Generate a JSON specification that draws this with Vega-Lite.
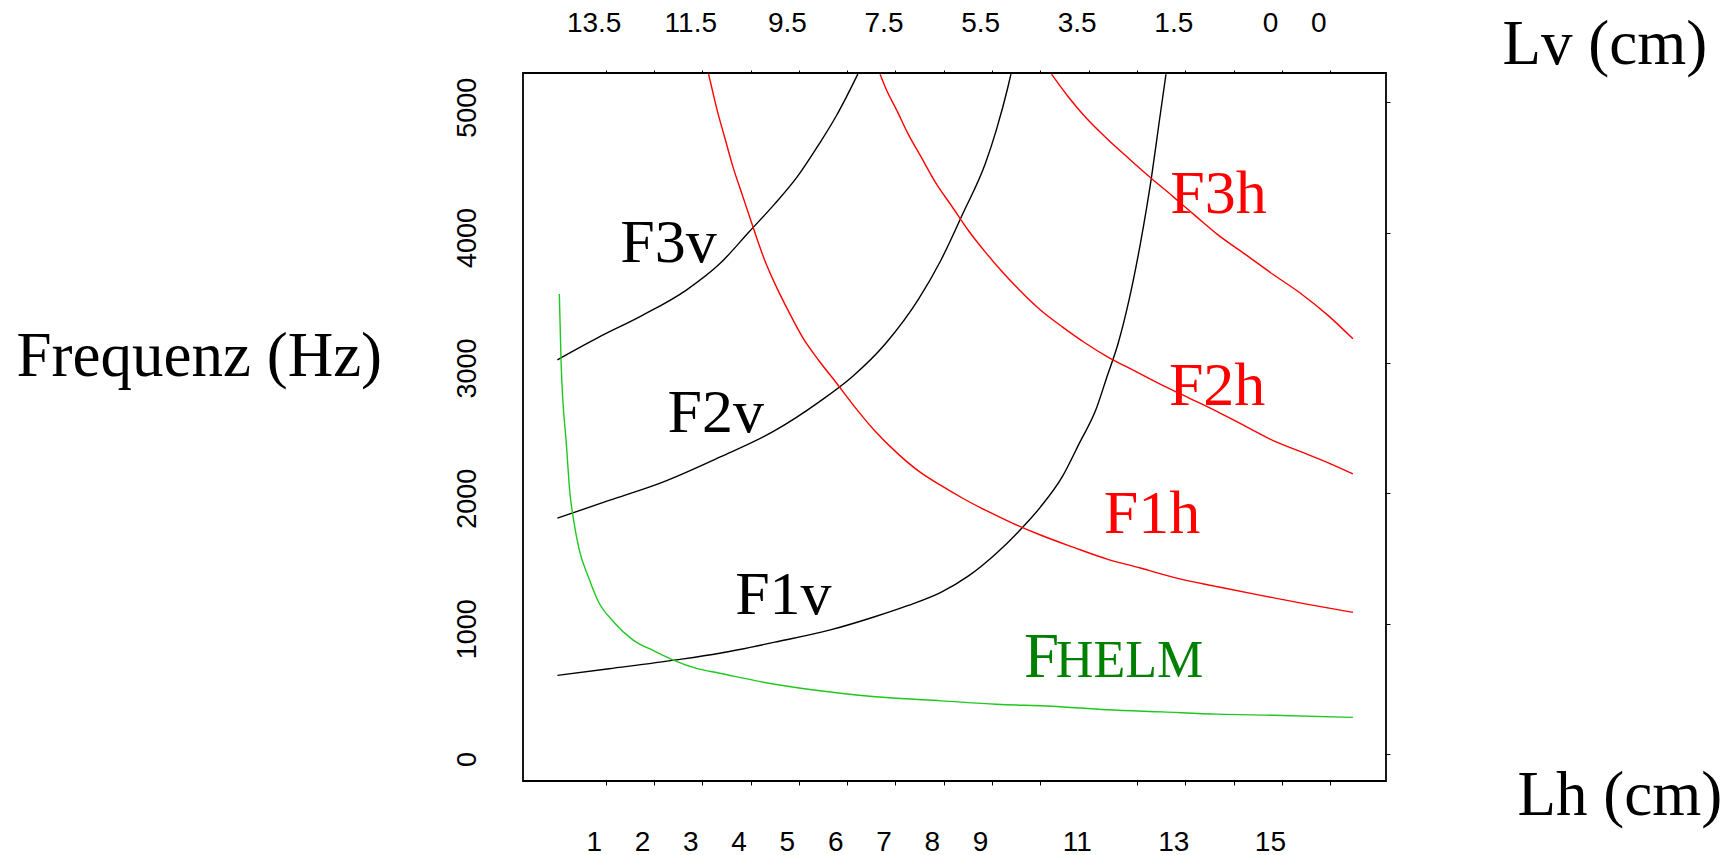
{
  "$schema": "https://vega.github.io/schema/vega-lite/v6.json",
  "autosize": {"type": "none"},
  "padding": {"left": 523, "top": 73, "right": 350, "bottom": 74},
  "width": 863,
  "height": 708,
  "background": "white",
  "config": {
    "view": {"stroke": "black", "strokeWidth": 1.8},
    "axis": {"grid": false, "labelFont": "Liberation Sans", "labelColor": "black", "tickColor": "black", "titleFont": "Liberation Serif", "titleFontWeight": "normal", "titleColor": "black", "titleFontSize": 63}
  },
  "datasets": {
    "curves": [
      {"s": "F1v", "Lh": 0, "F": 603}, {"s": "F1v", "Lh": 1.07, "F": 654}, {"s": "F1v", "Lh": 2.46, "F": 722}, {"s": "F1v", "Lh": 3.36, "F": 773}, {"s": "F1v", "Lh": 4.5, "F": 858}, {"s": "F1v", "Lh": 5.65, "F": 952}, {"s": "F1v", "Lh": 6.57, "F": 1053}, {"s": "F1v", "Lh": 7.25, "F": 1138}, {"s": "F1v", "Lh": 7.94, "F": 1240}, {"s": "F1v", "Lh": 8.52, "F": 1368}, {"s": "F1v", "Lh": 9.09, "F": 1540}, {"s": "F1v", "Lh": 9.55, "F": 1707}, {"s": "F1v", "Lh": 10.0, "F": 1894}, {"s": "F1v", "Lh": 10.46, "F": 2132}, {"s": "F1v", "Lh": 10.81, "F": 2387}, {"s": "F1v", "Lh": 11.15, "F": 2642}, {"s": "F1v", "Lh": 11.38, "F": 2896}, {"s": "F1v", "Lh": 11.61, "F": 3151}, {"s": "F1v", "Lh": 11.84, "F": 3491}, {"s": "F1v", "Lh": 12.07, "F": 3916}, {"s": "F1v", "Lh": 12.3, "F": 4425}, {"s": "F1v", "Lh": 12.46, "F": 4850}, {"s": "F1v", "Lh": 12.6, "F": 5215},
      {"s": "F2v", "Lh": 0, "F": 1809}, {"s": "F2v", "Lh": 1.07, "F": 1945}, {"s": "F2v", "Lh": 2.21, "F": 2090}, {"s": "F2v", "Lh": 3.36, "F": 2277}, {"s": "F2v", "Lh": 4.5, "F": 2480}, {"s": "F2v", "Lh": 5.42, "F": 2701}, {"s": "F2v", "Lh": 6.11, "F": 2896}, {"s": "F2v", "Lh": 6.8, "F": 3151}, {"s": "F2v", "Lh": 7.48, "F": 3491}, {"s": "F2v", "Lh": 7.94, "F": 3788}, {"s": "F2v", "Lh": 8.4, "F": 4150}, {"s": "F2v", "Lh": 8.86, "F": 4530}, {"s": "F2v", "Lh": 9.09, "F": 4790}, {"s": "F2v", "Lh": 9.32, "F": 5105}, {"s": "F2v", "Lh": 9.39, "F": 5215},
      {"s": "F3v", "Lh": 0, "F": 3024}, {"s": "F3v", "Lh": 0.84, "F": 3194}, {"s": "F3v", "Lh": 1.75, "F": 3363}, {"s": "F3v", "Lh": 2.67, "F": 3559}, {"s": "F3v", "Lh": 3.36, "F": 3760}, {"s": "F3v", "Lh": 3.98, "F": 4010}, {"s": "F3v", "Lh": 4.5, "F": 4220}, {"s": "F3v", "Lh": 4.96, "F": 4425}, {"s": "F3v", "Lh": 5.42, "F": 4680}, {"s": "F3v", "Lh": 5.77, "F": 4892}, {"s": "F3v", "Lh": 5.99, "F": 5045}, {"s": "F3v", "Lh": 6.22, "F": 5215},
      {"s": "F1h", "Lh": 3.13, "F": 5215}, {"s": "F1h", "Lh": 3.2, "F": 5105}, {"s": "F1h", "Lh": 3.31, "F": 4935}, {"s": "F1h", "Lh": 3.47, "F": 4722}, {"s": "F1h", "Lh": 3.63, "F": 4510}, {"s": "F1h", "Lh": 3.82, "F": 4298}, {"s": "F1h", "Lh": 4.05, "F": 4043}, {"s": "F1h", "Lh": 4.28, "F": 3800}, {"s": "F1h", "Lh": 4.5, "F": 3610}, {"s": "F1h", "Lh": 4.78, "F": 3400}, {"s": "F1h", "Lh": 5.08, "F": 3194}, {"s": "F1h", "Lh": 5.42, "F": 3015}, {"s": "F1h", "Lh": 5.77, "F": 2850}, {"s": "F1h", "Lh": 6.11, "F": 2684}, {"s": "F1h", "Lh": 6.57, "F": 2480}, {"s": "F1h", "Lh": 7.03, "F": 2310}, {"s": "F1h", "Lh": 7.48, "F": 2170}, {"s": "F1h", "Lh": 7.94, "F": 2060}, {"s": "F1h", "Lh": 8.4, "F": 1960}, {"s": "F1h", "Lh": 8.86, "F": 1870}, {"s": "F1h", "Lh": 9.43, "F": 1770}, {"s": "F1h", "Lh": 10.0, "F": 1680}, {"s": "F1h", "Lh": 10.69, "F": 1585}, {"s": "F1h", "Lh": 11.38, "F": 1495}, {"s": "F1h", "Lh": 12.07, "F": 1427}, {"s": "F1h", "Lh": 12.76, "F": 1355}, {"s": "F1h", "Lh": 13.67, "F": 1283}, {"s": "F1h", "Lh": 14.59, "F": 1215}, {"s": "F1h", "Lh": 15.51, "F": 1150}, {"s": "F1h", "Lh": 16.47, "F": 1087},
      {"s": "F2h", "Lh": 6.68, "F": 5215}, {"s": "F2h", "Lh": 6.8, "F": 5105}, {"s": "F2h", "Lh": 7.03, "F": 4935}, {"s": "F2h", "Lh": 7.25, "F": 4765}, {"s": "F2h", "Lh": 7.53, "F": 4580}, {"s": "F2h", "Lh": 7.83, "F": 4383}, {"s": "F2h", "Lh": 8.17, "F": 4200}, {"s": "F2h", "Lh": 8.52, "F": 4010}, {"s": "F2h", "Lh": 8.86, "F": 3850}, {"s": "F2h", "Lh": 9.2, "F": 3703}, {"s": "F2h", "Lh": 9.55, "F": 3565}, {"s": "F2h", "Lh": 10.0, "F": 3406}, {"s": "F2h", "Lh": 10.46, "F": 3275}, {"s": "F2h", "Lh": 10.92, "F": 3155}, {"s": "F2h", "Lh": 11.38, "F": 3049}, {"s": "F2h", "Lh": 11.95, "F": 2939}, {"s": "F2h", "Lh": 12.53, "F": 2828}, {"s": "F2h", "Lh": 13.1, "F": 2727}, {"s": "F2h", "Lh": 13.67, "F": 2625}, {"s": "F2h", "Lh": 14.25, "F": 2514}, {"s": "F2h", "Lh": 14.82, "F": 2404}, {"s": "F2h", "Lh": 15.39, "F": 2319}, {"s": "F2h", "Lh": 15.96, "F": 2234}, {"s": "F2h", "Lh": 16.47, "F": 2149},
      {"s": "F3h", "Lh": 10.23, "F": 5215}, {"s": "F3h", "Lh": 10.58, "F": 5040}, {"s": "F3h", "Lh": 10.92, "F": 4890}, {"s": "F3h", "Lh": 11.38, "F": 4720}, {"s": "F3h", "Lh": 11.84, "F": 4565}, {"s": "F3h", "Lh": 12.3, "F": 4415}, {"s": "F3h", "Lh": 12.76, "F": 4272}, {"s": "F3h", "Lh": 13.21, "F": 4128}, {"s": "F3h", "Lh": 13.67, "F": 3984}, {"s": "F3h", "Lh": 14.25, "F": 3831}, {"s": "F3h", "Lh": 14.82, "F": 3678}, {"s": "F3h", "Lh": 15.39, "F": 3533}, {"s": "F3h", "Lh": 15.96, "F": 3363}, {"s": "F3h", "Lh": 16.47, "F": 3185},
      {"s": "Fhelm", "Lh": 0.04, "F": 3529}, {"s": "Fhelm", "Lh": 0.075, "F": 3022}, {"s": "Fhelm", "Lh": 0.19, "F": 2357}, {"s": "Fhelm", "Lh": 0.26, "F": 2000}, {"s": "Fhelm", "Lh": 0.33, "F": 1808}, {"s": "Fhelm", "Lh": 0.45, "F": 1570}, {"s": "Fhelm", "Lh": 0.64, "F": 1360}, {"s": "Fhelm", "Lh": 0.85, "F": 1168}, {"s": "Fhelm", "Lh": 1.16, "F": 1015}, {"s": "Fhelm", "Lh": 1.57, "F": 874}, {"s": "Fhelm", "Lh": 1.99, "F": 793}, {"s": "Fhelm", "Lh": 2.4, "F": 721}, {"s": "Fhelm", "Lh": 2.88, "F": 657}, {"s": "Fhelm", "Lh": 3.36, "F": 620}, {"s": "Fhelm", "Lh": 4.5, "F": 535}, {"s": "Fhelm", "Lh": 5.65, "F": 476}, {"s": "Fhelm", "Lh": 6.8, "F": 433}, {"s": "Fhelm", "Lh": 7.94, "F": 408}, {"s": "Fhelm", "Lh": 9.09, "F": 382}, {"s": "Fhelm", "Lh": 10.23, "F": 366}, {"s": "Fhelm", "Lh": 11.38, "F": 340}, {"s": "Fhelm", "Lh": 12.53, "F": 323}, {"s": "Fhelm", "Lh": 13.67, "F": 306}, {"s": "Fhelm", "Lh": 14.82, "F": 297}, {"s": "Fhelm", "Lh": 16.47, "F": 281}
    ],
    "labels": [
      {"s": "F3v", "t": "F3v", "Lh": 1.3, "F": 3771},
      {"s": "F2v", "t": "F2v", "Lh": 2.28, "F": 2472},
      {"s": "F1v", "t": "F1v", "Lh": 3.68, "F": 1071},
      {"s": "F3h", "t": "F3h", "Lh": 12.69, "F": 4153},
      {"s": "F2h", "t": "F2h", "Lh": 12.66, "F": 2676},
      {"s": "F1h", "t": "F1h", "Lh": 11.31, "F": 1699}
    ]
  },
  "resolve": {"axis": {"x": "independent", "y": "independent"}},
  "layer": [
    {
      "data": {"name": "curves"},
      "mark": {"type": "line", "strokeWidth": 1.4, "clip": true, "interpolate": "monotone"},
      "encoding": {
        "x": {"field": "Lh", "type": "quantitative", "scale": {"domain": [-0.712, 17.155], "nice": false, "zero": false},
          "axis": {"orient": "bottom", "values": [1,2,3,4,5,6,7,8,9,10,11,12,13,14,15,16], "labelExpr": "indexof([1,2,3,4,5,6,7,8,9,11,13,15], datum.value) >= 0 ? datum.label : ''", "labelFontSize": 28, "labelOffset": -12, "labelPadding": 43, "tickSize": 4, "tickOpacity": {"condition": {"test": "datum.value == 11", "value": 0}, "value": 1}, "domain": false, "title": "Lh (cm)", "titleAngle": 0, "titleAlign": "left", "titleBaseline": "alphabetic", "titleX": 994, "titleY": 33}},
        "y": {"field": "F", "type": "quantitative", "scale": {"domain": [-207, 5224], "nice": false, "zero": false},
          "axis": {"orient": "left", "values": [0,1000,2000,3000,4000,5000], "format": "d", "labelAngle": -90, "labelAlign": "center", "labelBaseline": "bottom", "labelFontSize": 27, "labelPadding": 42, "labelOffset": 5, "ticks": false, "domain": false, "title": "Frequenz (Hz)", "titleAngle": 0, "titleAlign": "left", "titleBaseline": "alphabetic", "titleX": -507, "titleY": 302}},
        "color": {"field": "s", "type": "nominal", "legend": null,
          "scale": {"domain": ["F1v","F2v","F3v","F1h","F2h","F3h","Fhelm"], "range": ["#000000","#000000","#000000","#ff0000","#ff0000","#ff0000","#1ec81e"]}},
        "detail": {"field": "s"}
      }
    },
    {
      "data": {"name": "labels"},
      "mark": {"type": "text", "font": "Liberation Serif", "fontSize": 62, "align": "left", "baseline": "alphabetic"},
      "encoding": {
        "x": {"field": "Lh", "type": "quantitative",
          "axis": {"orient": "top", "values": [1,2,3,4,5,6,7,8,9,10,11,12,13,14,15,16], "labelExpr": "datum.value == 1 ? '13.5' : datum.value == 3 ? '11.5' : datum.value == 5 ? '9.5' : datum.value == 7 ? '7.5' : datum.value == 9 ? '5.5' : datum.value == 11 ? '3.5' : datum.value == 13 ? '1.5' : (datum.value == 15 || datum.value == 16) ? '0' : ''", "labelFontSize": 28, "labelOffset": -12, "labelPadding": 33, "tickSize": 3, "domain": false, "title": "Lv (cm)", "titleAngle": 0, "titleAlign": "left", "titleBaseline": "alphabetic", "titleX": 979, "titleY": -10}},
        "y": {"field": "F", "type": "quantitative",
          "axis": {"orient": "right", "values": [0,1000,2000,3000,4000,5000], "labels": false, "tickSize": 4, "domain": false, "title": null}},
        "color": {"field": "s", "type": "nominal", "legend": null},
        "text": {"field": "t"}
      }
    },
    {
      "data": {"values": [{"t": "F", "Lh": 9.66, "F": 591}]},
      "mark": {"type": "text", "font": "Liberation Serif", "fontSize": 63, "align": "left", "baseline": "alphabetic", "color": "#008000"},
      "encoding": {
        "x": {"field": "Lh", "type": "quantitative", "axis": null},
        "y": {"field": "F", "type": "quantitative", "axis": null},
        "text": {"field": "t"}
      }
    },
    {
      "data": {"values": [{"t": "HELM", "Lh": 10.32, "F": 591}]},
      "mark": {"type": "text", "font": "Liberation Serif", "fontSize": 52, "align": "left", "baseline": "alphabetic", "color": "#008000"},
      "encoding": {
        "x": {"field": "Lh", "type": "quantitative", "axis": null},
        "y": {"field": "F", "type": "quantitative", "axis": null},
        "text": {"field": "t"}
      }
    }
  ]
}
